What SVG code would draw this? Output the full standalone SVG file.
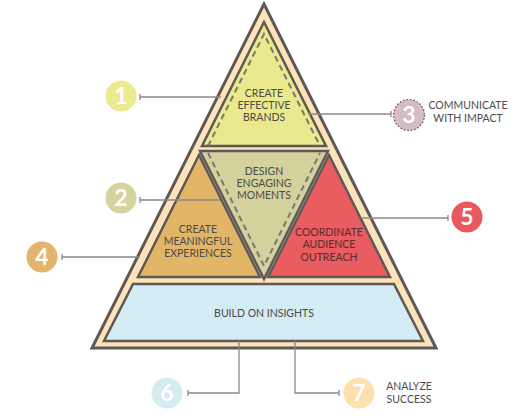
<svg xmlns="http://www.w3.org/2000/svg" width="525" height="420" viewBox="0 0 525 420">
<style>
.sh{stroke:#5e5857;stroke-width:2.5;stroke-linejoin:miter}
.dash{fill:none;stroke:#7a7674;stroke-width:2;stroke-dasharray:6 4}
.lbl{font-family:Lato,"Open Sans",sans-serif;font-size:10.5px;fill:#4d4a48;text-anchor:middle}
.num{font-family:Lato,"Open Sans",sans-serif;font-size:23px;font-weight:bold;fill:#ffffff;text-anchor:middle}
.conn{fill:none;stroke:#8c8988;stroke-width:1.3}
</style>
<rect width="525" height="420" fill="#ffffff"/>
<g id="pyramid">
<polygon points="264,4 92,348 436,348" fill="#fde3b9" stroke="#5e5857" stroke-width="3"/>
</g>
<g id="brands">
<polygon class="sh" points="264,22 202,146 326,146" fill="#e9e98d"/>
<polyline class="dash" points="208,146 264,34 320,146"/>
<text class="lbl" x="264" y="97">CREATE</text>
<text class="lbl" x="264" y="109">EFFECTIVE</text>
<text class="lbl" x="264" y="121">BRANDS</text>
</g>
<g id="moments">
<polygon class="sh" points="200,151 328,151 264,279" fill="#d3d29c"/>
<polyline class="dash" points="208,153 264,266 320,153"/>
<text class="lbl" x="264" y="175">DESIGN</text>
<text class="lbl" x="264" y="187">ENGAGING</text>
<text class="lbl" x="264" y="199">MOMENTS</text>
</g>
<g id="experiences">
<polygon class="sh" points="199,155 138,277 260,277" fill="#e2b567"/>
<text class="lbl" x="198" y="233">CREATE</text>
<text class="lbl" x="198" y="245">MEANINGFUL</text>
<text class="lbl" x="198" y="257">EXPERIENCES</text>
</g>
<g id="outreach">
<polygon class="sh" points="329,155 268,277 390,277" fill="#e95c60"/>
<text class="lbl" x="329" y="236" style="fill:#5c2a2a">COORDINATE</text>
<text class="lbl" x="329" y="248" style="fill:#5c2a2a">AUDIENCE</text>
<text class="lbl" x="329" y="261" style="fill:#5c2a2a">OUTREACH</text>
</g>
<g id="insights">
<polygon class="sh" points="133,284 394,284 423,341 104,341" fill="#d4ecf4"/>
<text class="lbl" x="264" y="317">BUILD ON INSIGHTS</text>
</g>
<g id="connectors">
<path class="conn" d="M140,97 H221 M140,94 V100"/>
<path class="conn" d="M140,200 H220 M140,197 V203"/>
<path class="conn" d="M62,257 H140 M62,254 V260"/>
<path class="conn" d="M309,114 H391 M391,111 V117"/>
<path class="conn" d="M361,218 H448 M448,215 V221"/>
<path class="conn" d="M239,341 V393 H188 M188,390 V396"/>
<path class="conn" d="M295,341 V393 H339 M339,390 V396"/>
</g>
<g id="n1">
<circle cx="121" cy="96" r="15.5" fill="#ecea8e"/>
<text class="num" x="121" y="104">1</text>
</g>
<g id="n2">
<circle cx="121" cy="198" r="15.5" fill="#d6d49e"/>
<text class="num" x="121" y="206">2</text>
</g>
<g id="n3">
<circle cx="409" cy="115" r="15.5" fill="#d6bcc4" stroke="#5e5857" stroke-width="1.3" stroke-dasharray="1.5 2"/>
<text class="num" x="409" y="123">3</text>
<text class="lbl" x="468" y="109">COMMUNICATE</text>
<text class="lbl" x="468" y="122">WITH IMPACT</text>
</g>
<g id="n4">
<circle cx="42" cy="257" r="15.5" fill="#e3b56b"/>
<text class="num" x="42" y="265">4</text>
</g>
<g id="n5">
<circle cx="467" cy="217" r="15.5" fill="#e85a5c"/>
<text class="num" x="467" y="225">5</text>
</g>
<g id="n6">
<circle cx="167" cy="393" r="15.5" fill="#d5ecf3"/>
<text class="num" x="167" y="401">6</text>
</g>
<g id="n7">
<circle cx="359" cy="393" r="15.5" fill="#fde0ad"/>
<text class="num" x="359" y="401">7</text>
<text class="lbl" x="409" y="390">ANALYZE</text>
<text class="lbl" x="409" y="403">SUCCESS</text>
</g>
</svg>
